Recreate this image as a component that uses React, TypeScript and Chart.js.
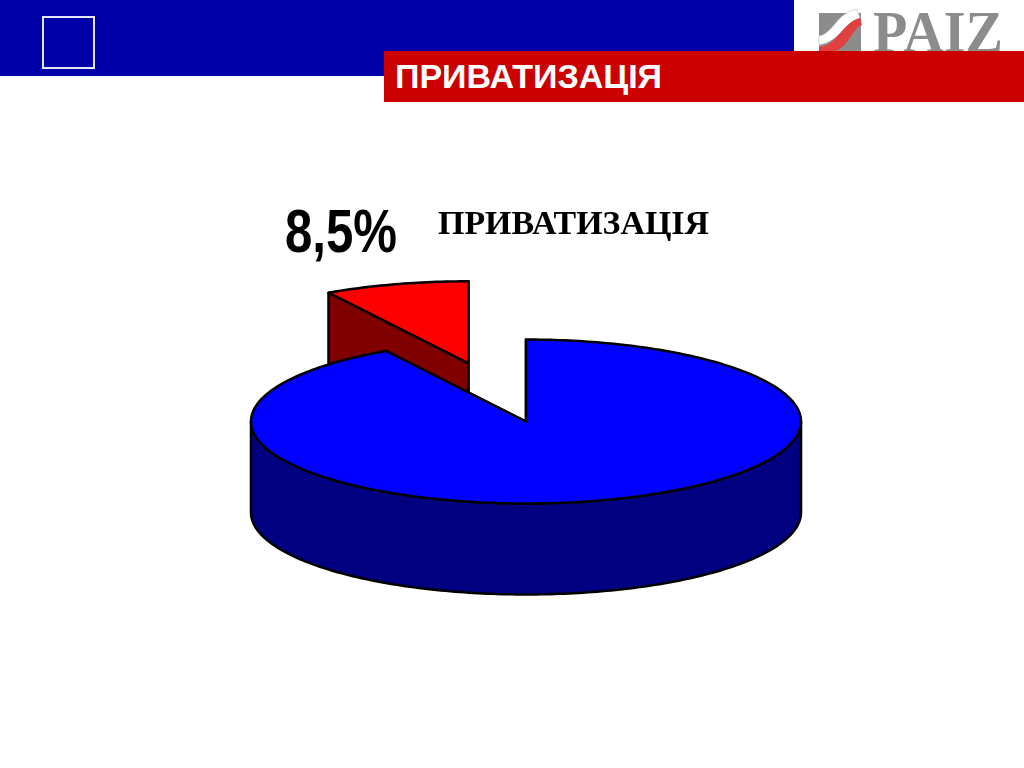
import React, { useEffect, useRef } from "react";
import { Chart, registerables } from "chart.js";

Chart.register(...registerables);

const categories = ["Інше", "ПРИВАТИЗАЦІЯ"];
const shares = [91.5, 8.5];
const shareLabel = "8,5%";
const pageTitle = "ПРИВАТИЗАЦІЯ";
const brandName = "PAIZ";

const topColors = ["#0000FF", "#FF0000"];
const wallColors = ["#000080", "#800000"];

const TILT = 0.298;
const EXPLODE_TILT = 0.277;
const DEPTH = 91;
const CENTER_Y = 421.5;

const pie3d = {
  id: "pie3d",
  beforeDatasetDraw(chart: any) {
    const ctx = chart.ctx;
    const meta = chart.getDatasetMeta(0);
    const order = meta.data.map((_: any, i: number) => i).reverse();

    order.forEach((i: number) => {
      const arc = meta.data[i];
      const { x, startAngle, endAngle, outerRadius } = arc.getProps(["x", "startAngle", "endAngle", "outerRadius"], true);
      const offset = arc.options.offset || 0;
      const mid = (startAngle + endAngle) / 2;
      const ox = x + Math.cos(mid) * offset;
      const oy = CENTER_Y + Math.sin(mid) * offset * EXPLODE_TILT;
      const px = (a: number) => ox + Math.cos(a) * outerRadius;
      const py = (a: number) => oy + Math.sin(a) * outerRadius * TILT;
      const step = Math.PI / 180;

      ctx.save();
      ctx.lineJoin = "round";
      ctx.lineWidth = 2.5;
      ctx.strokeStyle = "#000000";

      // cut faces
      ctx.fillStyle = wallColors[i];
      [startAngle, endAngle].forEach((a: number) => {
        ctx.beginPath();
        ctx.moveTo(ox, oy);
        ctx.lineTo(px(a), py(a));
        ctx.lineTo(px(a), py(a) + DEPTH);
        ctx.lineTo(ox, oy + DEPTH);
        ctx.closePath();
        ctx.fill();
        ctx.stroke();
      });

      // visible rim
      const from = Math.max(startAngle, 0);
      const to = Math.min(endAngle, Math.PI);
      if (to > from) {
        ctx.beginPath();
        ctx.moveTo(px(from), py(from));
        for (let a = from; a < to; a += step) ctx.lineTo(px(a), py(a));
        ctx.lineTo(px(to), py(to));
        ctx.lineTo(px(to), py(to) + DEPTH);
        for (let a = to; a > from; a -= step) ctx.lineTo(px(a), py(a) + DEPTH);
        ctx.lineTo(px(from), py(from) + DEPTH);
        ctx.closePath();
        ctx.fill();
        ctx.stroke();
      }

      // top surface
      ctx.fillStyle = arc.options.backgroundColor;
      ctx.beginPath();
      ctx.moveTo(ox, oy);
      for (let a = startAngle; a < endAngle; a += step) ctx.lineTo(px(a), py(a));
      ctx.lineTo(px(endAngle), py(endAngle));
      ctx.closePath();
      ctx.fill();
      ctx.stroke();
      ctx.restore();
    });

    // labels of the small slice
    ctx.save();
    ctx.fillStyle = "#000000";
    ctx.textBaseline = "alphabetic";
    ctx.textAlign = "left";
    ctx.font = 'bold 61px "Liberation Sans"';
    ctx.fillText(shareLabel, 285, 252, 112);
    ctx.font = 'bold 34px "Liberation Serif"';
    ctx.fillText(categories[1], 438, 234, 271);
    ctx.restore();
    return false;
  },
};

export default function App() {
  const ref = useRef<HTMLCanvasElement | null>(null);

  useEffect(() => {
    const chart = new Chart(ref.current as HTMLCanvasElement, {
      type: "pie",
      data: {
        labels: categories,
        datasets: [
          {
            data: shares,
            backgroundColor: topColors,
            borderColor: "#000000",
            borderWidth: 2,
            offset: [0, 218],
          },
        ],
      },
      options: {
        responsive: false,
        animation: false,
        layout: { padding: { left: 28, right: 0, top: 0, bottom: 0 } },
        plugins: { legend: { display: false }, tooltip: { enabled: false } },
      },
      plugins: [pie3d],
    } as any);
    return () => chart.destroy();
  }, []);

  return (
    <div style={{ position: "fixed", left: 0, top: 0, width: 1024, height: 768, overflow: "hidden", background: "#fff" }}>
      <canvas ref={ref} width={1024} height={770} style={{ position: "absolute", left: 0, top: 0 }} />
      <div style={{ position: "absolute", left: 0, top: 0, width: 794, height: 76, background: "#0000A8" }} />
      <div style={{ position: "absolute", left: 42, top: 16, width: 49, height: 49, border: "2px solid #E4E4F4" }} />
      <svg width={230} height={52} style={{ position: "absolute", left: 794, top: 0 }} viewBox="794 0 230 52">
        <rect x={819} y={13} width={42} height={39} fill="#8C8C8C" />
        <path d="M819 36 C834 33 836 13 857 9 L860 18 C844 22 840 42 819 45 Z" fill="#FFFFFF" stroke="#B0B0B0" strokeWidth={0.5} />
        <path d="M819 47 C838 45 842 23 860 18 L862 25 C852 28 850 46 834 52 L819 52 Z" fill="#E04040" />
        <text x={873} y={52} fontFamily="Liberation Serif" fontWeight="bold" fontSize={60} fill="#8C8C8C" textLength={130} lengthAdjust="spacingAndGlyphs">
          {brandName}
        </text>
      </svg>
      <div
        style={{
          position: "absolute",
          left: 384,
          top: 51,
          width: 640,
          height: 51,
          background: "#CC0000",
          color: "#fff",
          font: 'bold 34px "Liberation Sans"',
          lineHeight: "51px",
          paddingLeft: 11,
          boxSizing: "border-box",
        }}
      >
        {pageTitle}
      </div>
    </div>
  );
}
